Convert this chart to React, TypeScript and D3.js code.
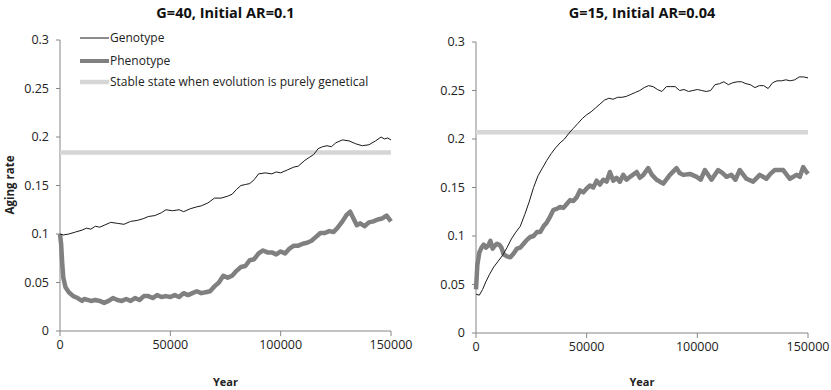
import React from "react";
import * as d3 from "d3";

type Pt = [number, number];

// tick values shared by both panels
const yTicks = [0, 0.05, 0.1, 0.15, 0.2, 0.25, 0.3];
const xTicks = [0, 50000, 100000, 150000];

const legendLabels = ["Genotype", "Phenotype", "Stable state when evolution is purely genetical"];

// left panel: G=40, Initial AR=0.1
const leftGenotype: Pt[] = [
  [0, 0.1], [1500, 0.099], [4000, 0.1], [7000, 0.102], [10000, 0.104], [12000, 0.106], [14000, 0.105],
  [16000, 0.108], [18000, 0.107], [20000, 0.109], [23000, 0.112], [26000, 0.111], [29000, 0.11],
  [32000, 0.113], [35000, 0.114], [38000, 0.116], [40000, 0.118], [43000, 0.119], [46000, 0.122],
  [48000, 0.125], [51000, 0.124], [54000, 0.125], [56000, 0.123], [59000, 0.126], [62000, 0.128],
  [64000, 0.129], [67000, 0.132], [70000, 0.137], [73000, 0.137], [76000, 0.139], [78000, 0.141],
  [80000, 0.146], [82000, 0.15], [84000, 0.151], [86000, 0.152], [88000, 0.156], [90000, 0.162],
  [93000, 0.163], [96000, 0.162], [98000, 0.164], [100000, 0.163], [103000, 0.166], [106000, 0.169],
  [108000, 0.17], [111000, 0.176], [113000, 0.179], [115000, 0.182], [117000, 0.188], [119000, 0.19],
  [121000, 0.191], [123000, 0.19], [125000, 0.194], [128000, 0.197], [131000, 0.196], [134000, 0.193],
  [137000, 0.191], [140000, 0.192], [143000, 0.196], [145500, 0.2], [147000, 0.198], [148500, 0.199],
  [150000, 0.197],
];
const leftPhenotype: Pt[] = [
  [0, 0.1], [500, 0.09], [1000, 0.07], [1500, 0.055], [2500, 0.045], [4000, 0.04], [6000, 0.036],
  [8000, 0.034], [10000, 0.031], [11000, 0.033], [12500, 0.032], [14000, 0.031], [16000, 0.032],
  [18000, 0.031], [20000, 0.029], [22000, 0.031], [24000, 0.034], [26000, 0.032], [28000, 0.031],
  [30000, 0.033], [32000, 0.031], [34000, 0.034], [36000, 0.032], [38000, 0.036], [40000, 0.036],
  [42000, 0.034], [44000, 0.037], [46000, 0.035], [48000, 0.036], [50000, 0.035], [52000, 0.037],
  [54000, 0.035], [56000, 0.039], [58000, 0.037], [60000, 0.039], [62000, 0.041], [64000, 0.039],
  [66000, 0.04], [68000, 0.041], [70000, 0.046], [72000, 0.05], [74000, 0.057], [76000, 0.055],
  [78000, 0.057], [80000, 0.062], [82000, 0.066], [84000, 0.067], [86000, 0.073], [88000, 0.074],
  [90000, 0.08], [92000, 0.083], [94000, 0.081], [96000, 0.081], [98000, 0.079], [100000, 0.082],
  [102000, 0.08], [104000, 0.085], [106000, 0.088], [108000, 0.088], [110000, 0.09], [112000, 0.091],
  [114000, 0.093], [116000, 0.097], [118000, 0.101], [120000, 0.101], [122000, 0.103], [124000, 0.102],
  [126000, 0.107], [128000, 0.113], [130000, 0.12], [131500, 0.123], [133000, 0.116], [134500, 0.109],
  [136000, 0.111], [138000, 0.108], [140000, 0.112], [142000, 0.113], [144000, 0.115], [146000, 0.116],
  [148000, 0.119], [150000, 0.113],
];
const leftStable = 0.184;

// right panel: G=15, Initial AR=0.04
const rightGenotype: Pt[] = [
  [0, 0.04], [1500, 0.039], [3000, 0.045], [4500, 0.053], [6000, 0.06], [8000, 0.068], [10000, 0.074],
  [12000, 0.08], [14000, 0.088], [16000, 0.097], [18000, 0.104], [20000, 0.11], [22000, 0.122],
  [24000, 0.135], [26000, 0.15], [28000, 0.162], [30000, 0.17], [32000, 0.178], [34000, 0.185],
  [36000, 0.191], [38000, 0.196], [40000, 0.2], [42000, 0.206], [44000, 0.211], [46000, 0.216],
  [48000, 0.221], [50000, 0.225], [52000, 0.228], [54000, 0.232], [56000, 0.236], [58000, 0.24],
  [60000, 0.242], [62000, 0.241], [64000, 0.243], [66000, 0.243], [68000, 0.244], [70000, 0.246],
  [72000, 0.248], [74000, 0.25], [76000, 0.253], [78000, 0.255], [80000, 0.254], [82000, 0.251],
  [84000, 0.249], [86000, 0.254], [88000, 0.254], [90000, 0.254], [92000, 0.25], [94000, 0.251],
  [96000, 0.249], [98000, 0.25], [100000, 0.251], [102000, 0.25], [104000, 0.249], [106000, 0.25],
  [108000, 0.256], [110000, 0.257], [112000, 0.259], [114000, 0.256], [116000, 0.258], [118000, 0.259],
  [120000, 0.259], [122000, 0.257], [124000, 0.256], [126000, 0.253], [128000, 0.255], [130000, 0.255],
  [132000, 0.252], [134000, 0.258], [136000, 0.26], [138000, 0.26], [140000, 0.261], [142000, 0.26],
  [144000, 0.261], [146000, 0.264], [148000, 0.264], [150000, 0.263],
];
const rightPhenotype: Pt[] = [
  [0, 0.045], [600, 0.07], [1500, 0.083], [2500, 0.088], [3500, 0.091], [4500, 0.088], [5500, 0.09],
  [6500, 0.095], [7500, 0.087], [8500, 0.09], [9500, 0.092], [10500, 0.091], [11500, 0.088],
  [12500, 0.081], [14000, 0.079], [15500, 0.078], [17000, 0.082], [18500, 0.087], [20000, 0.088],
  [21500, 0.092], [23000, 0.096], [24500, 0.099], [26000, 0.1], [27500, 0.104], [29000, 0.104],
  [30500, 0.11], [32000, 0.114], [33500, 0.12], [35000, 0.127], [36500, 0.128], [38000, 0.13],
  [39500, 0.129], [41000, 0.133], [42500, 0.137], [44000, 0.136], [45500, 0.14], [47000, 0.147],
  [48500, 0.145], [50000, 0.149], [51500, 0.152], [53000, 0.15], [54500, 0.157], [56000, 0.153],
  [57500, 0.158], [59000, 0.156], [60500, 0.166], [62000, 0.157], [63500, 0.16], [65000, 0.156],
  [66500, 0.163], [68000, 0.158], [69600, 0.161], [72600, 0.166], [74000, 0.16], [75600, 0.163],
  [77800, 0.17], [79500, 0.163], [81600, 0.158], [84600, 0.154], [87600, 0.163], [90600, 0.17],
  [92000, 0.165], [93600, 0.163], [96700, 0.164], [99700, 0.161], [101500, 0.158], [103400, 0.168],
  [106400, 0.158], [109400, 0.168], [111300, 0.165], [113200, 0.161], [115400, 0.163], [117200, 0.158],
  [119200, 0.168], [122200, 0.159], [125200, 0.156], [128200, 0.163], [131200, 0.159], [133000, 0.164],
  [135000, 0.168], [138800, 0.168], [141800, 0.159], [144800, 0.163], [146300, 0.161], [147800, 0.171],
  [149000, 0.167], [150000, 0.164],
];
const rightStable = 0.207;

const font = "'Open Sans', sans-serif";
const axisColor = "#868686";

type PanelProps = {
  title: string;
  left: number;
  right: number;
  top: number;
  bottom: number;
  genotype: Pt[];
  phenotype: Pt[];
  stable: number;
  showYLabel?: boolean;
  showLegend?: boolean;
};

const Panel: React.FC<PanelProps> = ({ title, left, right, top, bottom, genotype, phenotype, stable, showYLabel, showLegend }) => {
  const x = d3.scaleLinear().domain([0, 150000]).range([left, right]);
  const y = d3.scaleLinear().domain([0, 0.3]).range([bottom, top]);
  const line = d3.line<Pt>().x((d) => x(d[0])).y((d) => y(d[1])).curve(d3.curveLinear);
  const cx = (left + right) / 2;

  return (
    <g>
      <text x={cx} y={18} textAnchor="middle" fontFamily={font} fontWeight="bold" fontSize={14.5} fill="#111">
        {title}
      </text>

      {/* axes */}
      <line x1={left} x2={left} y1={y(0.3)} y2={y(0)} stroke={axisColor} />
      <line x1={left} x2={right} y1={y(0)} y2={y(0)} stroke={axisColor} />
      {yTicks.map((t) => (
        <g key={"y" + t}>
          <line x1={left - 4} x2={left} y1={y(t)} y2={y(t)} stroke={axisColor} />
          <text x={left - 11} y={y(t)} dy="0.35em" textAnchor="end" fontFamily={font} fontSize={12.5} fill="#222">
            {d3.format("")(t)}
          </text>
        </g>
      ))}
      {xTicks.map((t) => (
        <g key={"x" + t}>
          <line x1={x(t)} x2={x(t)} y1={y(0)} y2={y(0) + 5} stroke={axisColor} />
          <text x={x(t)} y={y(0) + 18} textAnchor="middle" fontFamily={font} fontSize={12.5} fill="#222">
            {t}
          </text>
        </g>
      ))}
      <text x={cx} y={386} textAnchor="middle" fontFamily={font} fontWeight="bold" fontSize={11} fill="#222">
        Year
      </text>
      {showYLabel && (
        <text transform={`translate(14,185) rotate(-90)`} textAnchor="middle" fontFamily={font} fontWeight="bold" fontSize={11.5} fill="#222">
          Aging rate
        </text>
      )}

      {/* series */}
      <line x1={x(0)} x2={x(150000)} y1={y(stable)} y2={y(stable)} stroke="#d6d6d6" strokeWidth={4.5} />
      <path d={line(phenotype) || ""} fill="none" stroke="#808080" strokeWidth={4.5} strokeLinejoin="round" />
      <path d={line(genotype) || ""} fill="none" stroke="#1a1a1a" strokeWidth={1} strokeLinejoin="round" />

      {showLegend && (
        <g>
          {legendLabels.map((label, i) => {
            const ly = [38, 61, 82][i];
            const stroke = ["#1a1a1a", "#808080", "#d6d6d6"][i];
            const sw = [1, 4, 4.5][i];
            return (
              <g key={label}>
                <line x1={80} x2={109} y1={ly} y2={ly} stroke={stroke} strokeWidth={sw} />
                <text x={110} y={ly} dy="0.35em" fontFamily={font} fontSize={12} fill="#222">
                  {label}
                </text>
              </g>
            );
          })}
        </g>
      )}
    </g>
  );
};

export default function App() {
  return (
    <svg width={831} height={390} style={{ position: "absolute", left: 0, top: 0, background: "#fff" }}>
      <Panel
        title="G=40, Initial AR=0.1"
        left={60}
        right={391}
        top={40}
        bottom={331}
        genotype={leftGenotype}
        phenotype={leftPhenotype}
        stable={leftStable}
        showYLabel
        showLegend
      />
      <Panel
        title="G=15, Initial AR=0.04"
        left={476}
        right={808}
        top={42}
        bottom={333}
        genotype={rightGenotype}
        phenotype={rightPhenotype}
        stable={rightStable}
      />
    </svg>
  );
}
